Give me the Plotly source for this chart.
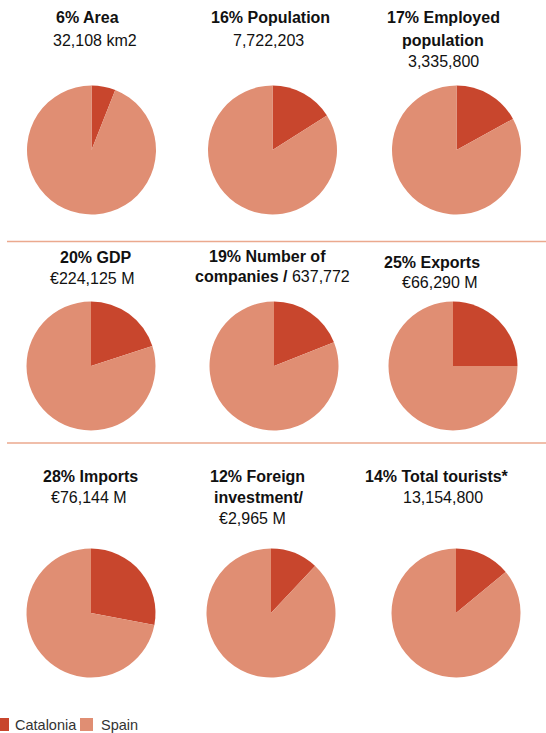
import plotly.graph_objects as go

W, H = 546, 733

# ---- data ----
indicators = ["Area", "Population", "Employed population", "GDP", "Number of companies",
              "Exports", "Imports", "Foreign investment", "Total tourists"]
catalonia_pct = [6, 16, 17, 20, 19, 25, 28, 12, 14]
spain_pct = [100 - v for v in catalonia_pct]
series_names = ["Catalonia", "Spain"]
series_colors = ["#C8462D", "#E08E73"]

# title lines per chart (text only)
title_lines = [
    ["<b>6% Area</b>", "32,108 km2"],
    ["<b>16% Population</b>", "7,722,203"],
    ["<b>17% Employed</b>", "<b>population</b>", "3,335,800"],
    ["<b>20% GDP</b>", "€224,125 M"],
    ["<b>19% Number of</b>", "<b>companies /</b> 637,772"],
    ["<b>25% Exports</b>", "€66,290 M"],
    ["<b>28% Imports</b>", "€76,144 M"],
    ["<b>12% Foreign</b>", "<b>investment/</b>", "€2,965 M"],
    ["<b>14% Total tourists*</b>", "13,154,800"],
]

# ---- layout (pixel positions) ----
centers = [(91.5, 150), (272.5, 150), (456.5, 150),
           (91, 366), (274, 366), (453, 366),
           (91, 613), (271, 613), (456, 613)]
R = 64.5
title_pos = [
    [(87, 18), (95, 40)],
    [(270, 18), (268, 40)],
    [(443, 18), (443, 40), (443, 61)],
    [(95, 257), (92, 278)],
    [(267, 256), (272, 277)],
    [(432, 262), (440, 283)],
    [(90, 476), (89, 497)],
    [(257, 476), (258, 497), (252, 518)],
    [(437, 476), (443, 497)],
]
FONT = "Liberation Sans, Arial, sans-serif"

fig = go.Figure()
for i, (cx, cy) in enumerate(centers):
    fig.add_trace(go.Pie(
        labels=series_names,
        values=[catalonia_pct[i], spain_pct[i]],
        name=indicators[i],
        sort=False,
        direction="clockwise",
        rotation=0,
        textinfo="none",
        marker=dict(colors=series_colors, line=dict(width=0)),
        domain=dict(x=[(cx - R) / W, (cx + R) / W],
                    y=[1 - (cy + R) / H, 1 - (cy - R) / H]),
        showlegend=False,
    ))

annotations = []
for lines, poss in zip(title_lines, title_pos):
    for txt, (x, y) in zip(lines, poss):
        annotations.append(dict(
            text=txt, x=x / W, y=1 - y / H, xref="paper", yref="paper",
            xanchor="center", yanchor="middle", showarrow=False,
            font=dict(family=FONT, size=16, color="#111111"),
        ))

shapes = []
for ly in (241.5, 443):
    shapes.append(dict(type="line", xref="paper", yref="paper",
                       x0=7 / W, x1=1, y0=1 - ly / H, y1=1 - ly / H,
                       line=dict(color="#EBA98E", width=1.5)))

# legend (key squares + labels)
leg_square_x = [-4, 80]
leg_text_x = [13, 99]
leg_y0, leg_y1 = 718, 731
for name, col, sx, tx in zip(series_names, series_colors, leg_square_x, leg_text_x):
    shapes.append(dict(type="rect", xref="paper", yref="paper",
                       x0=sx / W, x1=(sx + 13) / W, y0=1 - leg_y1 / H, y1=1 - leg_y0 / H,
                       fillcolor=col, line=dict(width=0)))
    annotations.append(dict(text=name, x=tx / W, y=1 - 725 / H, xref="paper", yref="paper",
                            xanchor="left", yanchor="middle", showarrow=False,
                            font=dict(family=FONT, size=14.5, color="#333333")))

fig.update_layout(
    width=W, height=H,
    margin=dict(l=0, r=0, t=0, b=0, autoexpand=False),
    paper_bgcolor="white", plot_bgcolor="white",
    annotations=annotations,
    shapes=shapes,
    showlegend=False,
    font=dict(family=FONT),
)

fig.write_html("out.html",
               config={"displayModeBar": False},
               post_script="document.body.style.margin='0';document.body.style.overflow='hidden';")
